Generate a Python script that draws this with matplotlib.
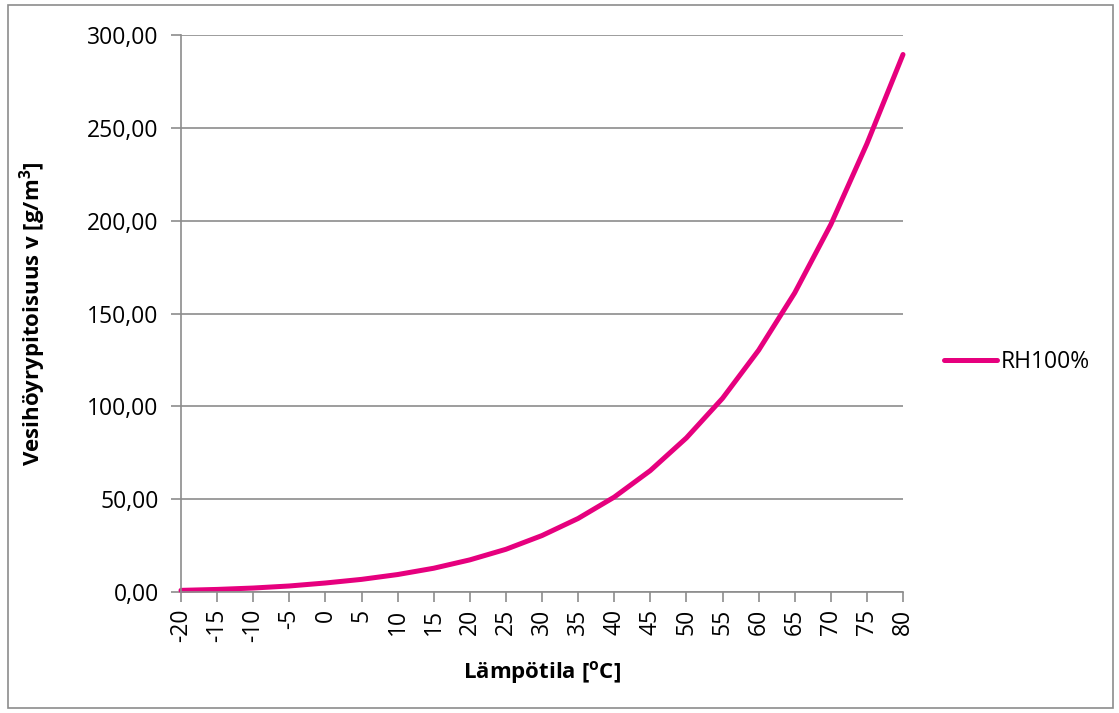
import matplotlib
matplotlib.use("Agg")
import matplotlib.pyplot as plt
from matplotlib.patches import Rectangle
from matplotlib.ticker import FuncFormatter

temps = [-20, -15, -10, -5, 0, 5, 10, 15, 20, 25, 30, 35, 40, 45, 50, 55, 60, 65, 70, 75, 80]
rh100 = [0.88, 1.39, 2.14, 3.24, 4.85, 6.8, 9.4, 12.8, 17.3, 23.0, 30.4, 39.6, 51.1,
         65.4, 83.0, 104.3, 130.2, 161.1, 197.9, 241.4, 289.5]
y_ticks = [0, 50, 100, 150, 200, 250, 300]
series_name = "RH100%"

plt.rcParams['font.family'] = ['Open Sans', 'DejaVu Sans']

W, H = 1119, 713
fig = plt.figure(figsize=(W / 100, H / 100), dpi=100)
fig.patch.set_facecolor('white')
fig.patches.append(Rectangle((8 / W, 1 - 708 / H), (1113 - 8) / W, (708 - 5) / H,
                             transform=fig.transFigure, fill=False,
                             edgecolor='#8c8c8c', linewidth=1.2))

left, right, top, bottom = 181, 903, 35, 592
ax = fig.add_axes([left / W, 1 - bottom / H, (right - left) / W, (bottom - top) / H])

idx = list(range(len(temps)))
line, = ax.plot(idx, rh100, color='#E6007E', linewidth=3.6, solid_capstyle='round',
                label=series_name, clip_on=False)

ax.set_xlim(0, len(temps) - 1)
ax.set_ylim(0, 300)
ax.set_xticks(idx)
ax.set_xticklabels([str(t) for t in temps], rotation=90, va='top', ha='center')
ax.set_yticks(y_ticks)
ax.yaxis.set_major_formatter(FuncFormatter(lambda v, p: f"{v:.2f}".replace('.', ',')))

ax.grid(axis='y', color='#8c8c8c', linewidth=1.2)
ax.set_axisbelow(True)
for s in ['top', 'right']:
    ax.spines[s].set_visible(False)
for s in ['left', 'bottom']:
    ax.spines[s].set_color('#8c8c8c')
    ax.spines[s].set_linewidth(1.2)
ax.tick_params(axis='both', colors='#8c8c8c', labelcolor='black', labelsize=16.5,
               length=7, width=1.2, direction='out')
ax.tick_params(axis='x', pad=5)
ax.tick_params(axis='y', pad=9)

ax.set_xlabel("Lämpötila [$\\mathregular{^o}$C]", fontsize=16, fontweight='bold', labelpad=12)
ax.set_ylabel("Vesihöyrypitoisuus v [g/m$\\mathregular{^3}$]", fontsize=16,
              fontweight='bold', labelpad=28)

fig.legend(handles=[line], labels=[series_name], loc='center left',
           bbox_to_anchor=(933 / W, 1 - 362 / H), frameon=False, fontsize=16.5,
           handlelength=2.3, handletextpad=0.15, borderpad=0)

fig.savefig("out.png", dpi=100)
